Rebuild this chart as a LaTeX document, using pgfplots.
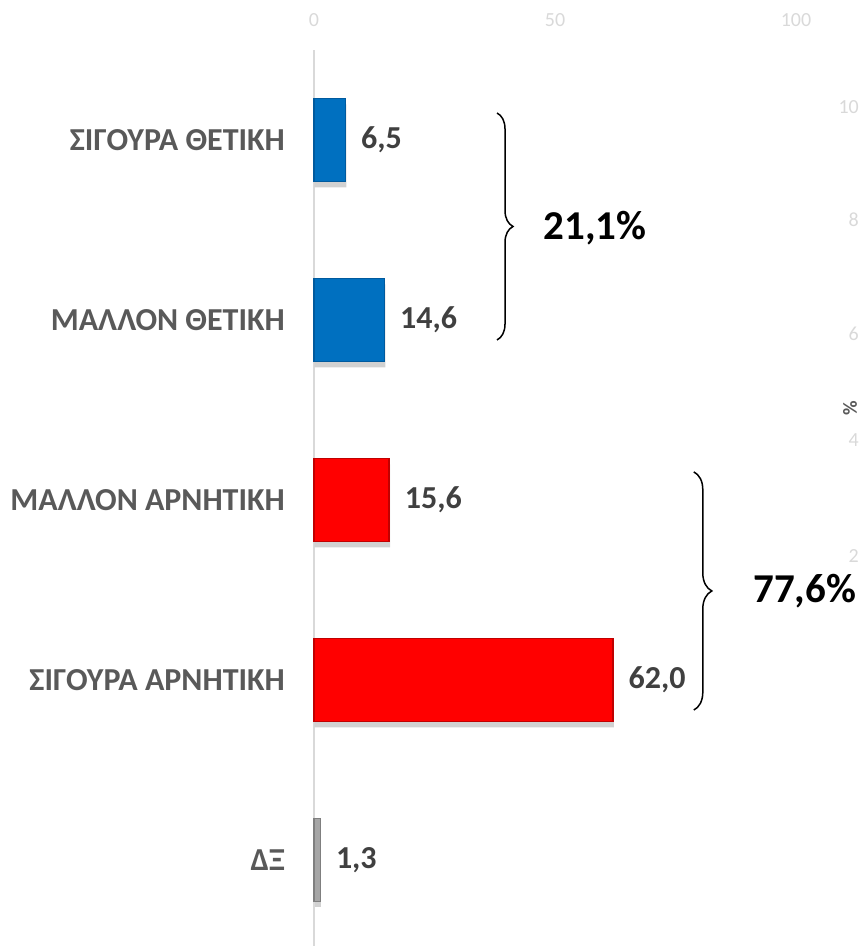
\documentclass[border=0pt]{standalone}
\usepackage{fontspec}
\setmainfont{Carlito}
\usepackage{pgfplots}
\pgfplotsset{compat=1.18}
\usetikzlibrary{decorations.pathreplacing,shadows}
\definecolor{barblue}{HTML}{0070C0}
\definecolor{barblueedge}{HTML}{005A9E}
\definecolor{barred}{HTML}{FF0000}
\definecolor{barrededge}{HTML}{C00000}
\definecolor{bargray}{HTML}{A6A6A6}
\definecolor{bargrayedge}{HTML}{7F7F7F}
\definecolor{ticklight}{HTML}{D9D9D9}
\definecolor{catgray}{HTML}{595959}
\definecolor{valgray}{HTML}{404040}
\begin{document}
\begin{tikzpicture}
\useasboundingbox (0pt,0pt) rectangle (860pt,946pt);
\begin{axis}[
  scale only axis,
  width=482pt, height=896pt,
  at={(314pt,0pt)}, anchor=south west,
  xmin=0, xmax=100,
  ymin=-0.478, ymax=4.5,
  clip=false,
  axis x line*=top,
  axis y line*=left,
  x axis line style={draw=none},
  y axis line style={draw=ticklight, line width=1.5pt, -},
  major tick length=0pt,
  xtick={0,50,100},
  ytick={0,1,2,3,4},
  yticklabels={ΔΞ, ΣΙΓΟΥΡΑ ΑΡΝΗΤΙΚΗ, ΜΑΛΛΟΝ ΑΡΝΗΤΙΚΗ, ΜΑΛΛΟΝ ΘΕΤΙΚΗ, ΣΙΓΟΥΡΑ ΘΕΤΙΚΗ},
  xticklabel style={font=\fontsize{20}{24}\selectfont, text=ticklight, inner sep=0pt, yshift=23pt},
  yticklabel style={font=\bfseries\fontsize{32}{38}\selectfont, text=catgray, inner sep=0pt, anchor=east, xshift=-29pt},
  /pgf/number format/assume math mode=true,
  xbar, bar width=83pt, bar shift=0pt,
  nodes near coords,
  nodes near coords style={font=\bfseries\fontsize{32}{38}\selectfont, text=valgray, anchor=west, inner sep=0pt, xshift=15pt,
    /pgf/number format/.cd, fixed, fixed zerofill, precision=1, use comma, assume math mode=true},
]
\addplot[fill=barblue, draw=barblueedge, line width=1.5pt,
  drop shadow={fill=black, draw=none, shadow xshift=1pt, shadow yshift=-6pt, opacity=0.18}]
  coordinates {(6.5,4) (14.6,3)};
\addplot[fill=barred, draw=barrededge, line width=1.5pt,
  drop shadow={fill=black, draw=none, shadow xshift=1pt, shadow yshift=-6pt, opacity=0.18}]
  coordinates {(15.6,2) (62.0,1)};
\addplot[fill=bargray, draw=bargrayedge, line width=1.5pt,
  drop shadow={fill=black, draw=none, shadow xshift=1pt, shadow yshift=-6pt, opacity=0.18}]
  coordinates {(1.3,0)};
\draw[decorate, decoration={brace, amplitude=16pt}, line width=1.5pt]
  (axis cs:37.97,4.15) -- (axis cs:37.97,2.889);
\draw[decorate, decoration={brace, amplitude=18pt}, line width=1.5pt]
  (axis cs:78.8,2.156) -- (axis cs:78.8,0.833);
\node[font=\bfseries\fontsize{41}{48}\selectfont, text=black] at (axis cs:58.3,3.511) {21,1\%};
\node[font=\bfseries\fontsize{41}{48}\selectfont, text=black] at (axis cs:101.8,1.494) {77,6\%};
\end{axis}
\begin{scope}[every node/.style={font=\fontsize{20}{24}\selectfont, text=ticklight, inner sep=0pt, anchor=east}]
\node at (859pt,839pt) {10};
\node at (859pt,726pt) {8};
\node at (859pt,612pt) {6};
\node at (859pt,506pt) {4};
\node at (859pt,390pt) {2};
\node[text=catgray, rotate=90, anchor=center, font=\bfseries\fontsize{20}{24}\selectfont] at (850pt,538pt) {\%};
\end{scope}
\end{tikzpicture}
\end{document}
